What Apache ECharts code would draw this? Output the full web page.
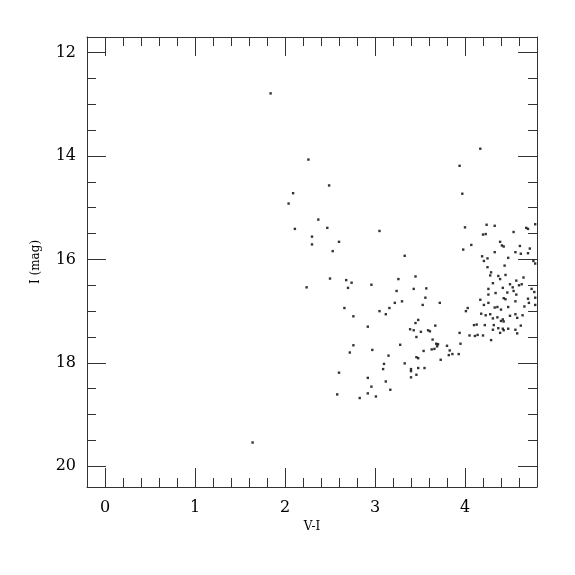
<!DOCTYPE html>
<html>
<head>
<meta charset="utf-8">
<script src="https://cdn.jsdelivr.net/npm/echarts@6/dist/echarts.min.js"></script>
<style>html,body{margin:0;padding:0;background:#fff}#c{width:575px;height:575px}</style>
</head>
<body>
<div id="c"></div>
<script>
// V-I colour of each star
const colorVI = [
  1.84, 1.64, 2.26, 2.49, 2.09, 2.04, 2.37, 2.11, 2.47, 3.05, 2.30, 2.30, 2.60, 2.53, 2.50, 2.68, 2.74, 2.24, 2.70, 2.96,
  3.26, 3.24, 3.22, 3.16, 3.05, 3.12, 2.66, 2.76, 2.92, 2.76, 2.72, 2.97, 3.15, 3.10, 3.09, 2.60, 2.92, 3.12, 2.96, 3.17,
  2.92, 2.58, 3.01, 2.83,
  4.17, 3.94, 3.97, 4.00, 4.24, 4.33, 4.20, 4.23, 4.54, 4.68, 4.70, 4.78, 4.39, 4.41, 4.43, 4.07, 4.61, 4.72,
  3.33, 3.98, 4.19, 4.21, 4.25, 4.33, 4.48, 4.56, 4.62, 4.70, 4.76, 4.78, 4.25, 4.44, 4.29, 4.28, 4.37, 4.39, 4.45, 4.57,
  4.65, 3.45, 4.31, 4.50, 4.53, 4.60, 4.63, 4.26, 4.42, 4.34, 4.26, 4.47, 4.54, 4.74, 4.77, 3.43, 3.57, 4.43, 4.45, 4.57,
  4.70, 4.78, 4.71, 4.78, 3.30, 3.56, 3.53, 3.72, 4.17, 4.21, 4.26, 4.33, 4.36, 4.40, 4.48, 4.56, 4.66, 4.03, 4.01, 4.18,
  4.23, 4.28, 4.31, 4.36, 4.40, 4.42, 4.43, 4.50, 4.56, 4.58, 4.64, 3.48, 3.45, 3.39, 3.43, 3.51, 3.59, 3.61, 3.67, 3.46,
  3.28, 3.64, 3.68, 3.70, 3.69, 3.66, 3.63, 3.54, 3.80, 3.83, 3.86, 3.82, 3.93, 3.94, 3.95, 4.05, 4.11, 4.14, 4.20, 4.29,
  4.13, 4.10, 4.22, 4.32, 4.37, 4.31, 4.42, 4.43, 4.48, 4.56, 4.62, 4.39, 4.58, 3.73, 3.33, 3.46, 3.48, 3.48, 3.55, 3.40,
  3.40, 3.46, 3.40
];
// I magnitude of each star
const magI = [
  12.79, 19.54, 14.07, 14.57, 14.72, 14.92, 15.23, 15.41, 15.39, 15.45, 15.56, 15.71, 15.66, 15.84, 16.37, 16.40, 16.45, 16.54, 16.55, 16.49,
  16.38, 16.61, 16.84, 16.94, 17.00, 17.06, 16.94, 17.10, 17.30, 17.66, 17.80, 17.75, 17.86, 18.02, 18.12, 18.19, 18.29, 18.36, 18.46, 18.52,
  18.59, 18.61, 18.65, 18.68,
  13.86, 14.19, 14.73, 15.38, 15.33, 15.35, 15.52, 15.51, 15.47, 15.39, 15.41, 15.32, 15.66, 15.73, 15.75, 15.72, 15.74, 15.79,
  15.93, 15.81, 15.94, 16.03, 15.98, 15.86, 15.97, 15.86, 15.89, 15.88, 16.03, 16.08, 16.15, 16.12, 16.25, 16.31, 16.32, 16.38, 16.30, 16.41,
  16.35, 16.33, 16.46, 16.48, 16.54, 16.50, 16.48, 16.57, 16.55, 16.65, 16.68, 16.64, 16.61, 16.57, 16.63, 16.57, 16.56, 16.75, 16.77, 16.68,
  16.76, 16.74, 16.84, 16.88, 16.81, 16.74, 16.88, 16.84, 16.78, 16.88, 16.84, 16.93, 16.92, 16.97, 16.92, 16.81, 16.91, 16.94, 17.00, 17.05,
  17.08, 17.06, 17.14, 17.12, 17.19, 17.16, 17.20, 17.09, 17.06, 17.13, 17.08, 17.17, 17.23, 17.35, 17.37, 17.40, 17.37, 17.39, 17.28, 17.50,
  17.65, 17.55, 17.63, 17.64, 17.68, 17.73, 17.74, 17.77, 17.67, 17.76, 17.83, 17.85, 17.83, 17.42, 17.63, 17.47, 17.48, 17.46, 17.47, 17.56,
  17.26, 17.27, 17.27, 17.27, 17.33, 17.36, 17.34, 17.37, 17.34, 17.36, 17.28, 17.42, 17.43, 17.94, 18.01, 17.89, 17.91, 18.10, 18.10, 18.12,
  18.16, 18.23, 18.28
];
const xTickLabels = [0, 1, 2, 3, 4];
const yTickLabels = [12, 14, 16, 18, 20];
const xMinorTicks = [];
for (let k = 1; k < 25; k++) xMinorTicks.push(+(-0.2 + 0.2 * k).toFixed(2));
const yMinorTicks = [];
for (let k = 0; k <= 16; k++) yMinorTicks.push(12 + 0.5 * k);

const FONT = 'DejaVu Serif';
const AX = '#333';
const points = colorVI.map((v, i) => [v, magI[i]]);

function xAx(pos, major, showLine, showLabel, extra) {
  return Object.assign({
    type: 'value', position: pos, min: -0.2, max: 4.8,
    axisLine: { show: showLine, onZero: false, lineStyle: { color: AX, width: 1 } },
    axisTick: { show: true, inside: true, length: major ? 19 : 9, customValues: major ? xTickLabels : xMinorTicks,
                lineStyle: { color: AX, width: 1 } },
    axisLabel: { show: showLabel, customValues: xTickLabels, margin: 13, fontFamily: FONT, fontSize: 16, color: '#000' },
    splitLine: { show: false }
  }, extra || {});
}
function yAx(pos, major, showLine, showLabel, extra) {
  return Object.assign({
    type: 'value', position: pos, min: 11.7, max: 20.4, inverse: true,
    axisLine: { show: showLine, onZero: false, lineStyle: { color: AX, width: 1 } },
    axisTick: { show: true, inside: true, length: major ? 19 : 9, customValues: major ? yTickLabels : yMinorTicks,
                lineStyle: { color: AX, width: 1 } },
    axisLabel: { show: showLabel, customValues: yTickLabels, margin: 11, fontFamily: FONT, fontSize: 16, color: '#000' },
    splitLine: { show: false }
  }, extra || {});
}

const chart = echarts.init(document.getElementById('c'), null, { renderer: 'canvas' });
chart.setOption({
  animation: false,
  backgroundColor: '#fff',
  grid: { left: 87, top: 37, width: 450, height: 450, containLabel: false },
  xAxis: [
    xAx('bottom', true, true, true, { name: 'V-I', nameLocation: 'middle', nameGap: 30,
      nameTextStyle: { fontFamily: FONT, fontSize: 12, color: '#000' } }),
    xAx('bottom', false, false, false),
    xAx('top', true, true, false),
    xAx('top', false, false, false)
  ],
  yAxis: [
    yAx('left', true, true, true, { name: 'I (mag)', nameLocation: 'middle', nameGap: 45, nameRotate: 90,
      nameTextStyle: { fontFamily: FONT, fontSize: 12, color: '#000' } }),
    yAx('left', false, false, false),
    yAx('right', true, true, false),
    yAx('right', false, false, false)
  ],
  series: [{
    type: 'scatter', xAxisIndex: 0, yAxisIndex: 0,
    data: points, symbol: 'rect', symbolSize: 2.4,
    itemStyle: { color: '#000' }, silent: true
  }]
});
</script>
</body>
</html>
